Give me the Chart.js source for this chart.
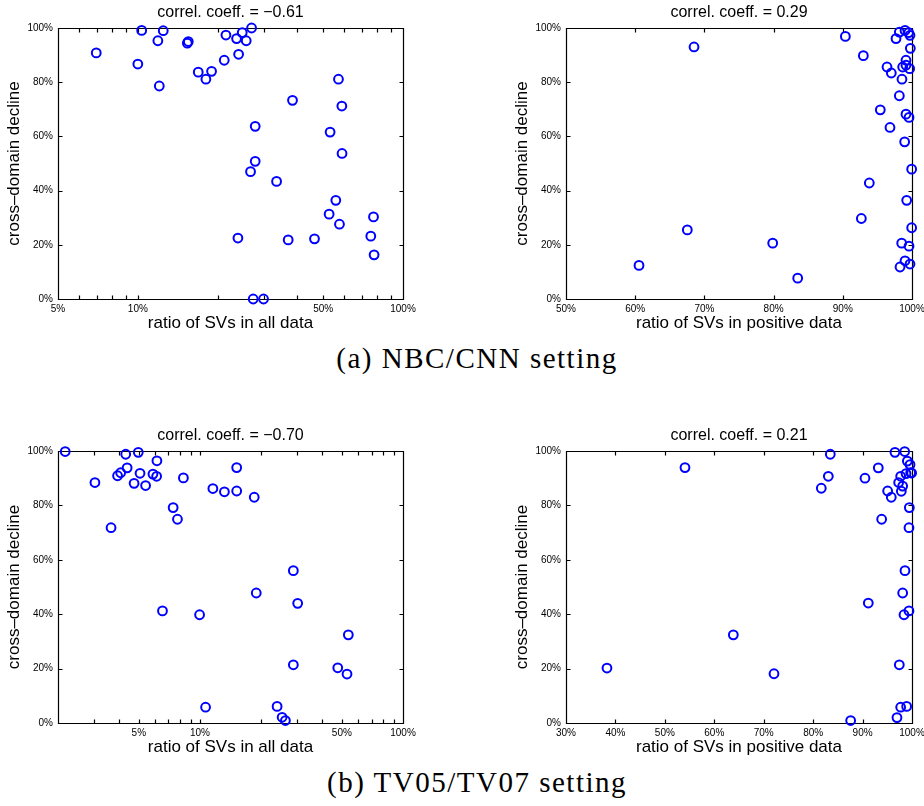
<!DOCTYPE html>
<html>
<head>
<meta charset="utf-8">
<script src="https://cdn.jsdelivr.net/npm/chart.js@4.4.1/dist/chart.umd.min.js"></script>
<style>
  body { margin: 0; width: 924px; height: 806px; overflow: hidden; background: #fff; position: relative; }
  canvas { position: absolute; }
  .cap { position: absolute; left: 177px; width: 600px; text-align: center; font-family: "Liberation Serif", serif;
         font-size: 29px; line-height: 29px; letter-spacing: 1.5px; color: #000; white-space: nowrap; }
</style>
</head>
<body>
<canvas id="c1" width="420" height="339" style="left:0;top:0"></canvas>
<canvas id="c2" width="424" height="339" style="left:508px;top:0"></canvas>
<canvas id="c3" width="420" height="340" style="left:0;top:423px"></canvas>
<canvas id="c4" width="424" height="340" style="left:508px;top:423px"></canvas>
<div class="cap" style="top:344px">(a) NBC/CNN setting</div>
<div class="cap" style="top:768px">(b) TV05/TV07 setting</div>
<script>
// (a) NBC/CNN - ratio of SVs in all data (%) vs cross-domain decline (%)
const nbcAllX = [6.97, 10.34, 12.47, 11.9, 10.0, 12.05, 15.37, 15.5, 16.9, 18.06, 18.97, 21.18, 21.49, 23.57, 23.99, 24.76, 25.63, 26.85, 27.71, 27.71,
                 26.61, 23.85, 27.23, 29.79, 33.36, 38.31, 36.9, 46.37, 52.65, 53.1, 55.8, 57.1, 57.6, 58.8, 58.9, 75.6, 77.4, 77.8];
const nbcAllY = [90.8, 99.1, 99.0, 95.3, 86.7, 78.6, 94.4, 95.0, 83.7, 81.1, 84.0, 88.1, 97.4, 96.1, 90.3, 98.3, 95.3, 100, 63.7, 50.8,
                 47.0, 22.5, 0, 0, 43.4, 73.3, 21.8, 22.2, 31.3, 61.6, 36.4, 81.1, 27.6, 71.2, 53.7, 23.2, 30.3, 16.3];

// (a) NBC/CNN - ratio of SVs in positive data
const nbcPosX = [60.55, 67.53, 68.5, 79.87, 83.48, 90.37, 92.97, 92.68, 93.83, 95.42, 96.39, 96.82, 97.01, 97.69, 98.17, 98.17, 98.55, 98.65,
                 98.51, 98.27, 98.94, 98.99, 99.13, 99.13, 98.99, 99.13, 99.23, 99.52, 99.57, 99.57, 99.71, 99.66, 99.76, 99.71, 99.95, 99.95];
const nbcPosY = [12.4, 25.5, 93.0, 20.6, 7.7, 96.9, 89.8, 29.7, 42.8, 69.8, 85.6, 63.3, 83.4, 96.1, 75.0, 98.5, 81.1, 85.6,
                 20.6, 11.8, 58.0, 99.1, 88.1, 86.3, 14.1, 68.2, 36.4, 98.3, 67.0, 19.5, 97.3, 85.0, 92.5, 12.9, 47.9, 26.3];

// (b) TV05/TV07 - ratio of SVs in all data
const tvAllX = [2.17, 3.04, 3.65, 3.93, 4.07, 4.31, 4.38, 4.74, 4.97, 5.07, 5.40, 5.87, 6.12, 6.14, 6.54, 7.38, 7.75, 8.29, 9.96, 10.66,
                11.58, 13.2, 15.17, 15.17, 18.51, 18.94, 23.99, 25.39, 26.36, 28.84, 28.84, 30.29, 47.72, 53.0, 53.8];
const tvAllY = [99.8, 88.4, 71.8, 90.9, 92.0, 98.8, 93.8, 88.1, 99.5, 91.8, 87.3, 91.5, 90.7, 96.4, 41.2, 79.2, 74.9, 90.1, 39.8, 5.8,
                86.2, 85.0, 93.9, 85.3, 83.0, 47.8, 6.1, 2.1, 0.9, 56.0, 21.4, 44.0, 20.3, 18.0, 32.4];

// (b) TV05/TV07 - ratio of SVs in positive data
const tvPosX = [38.29, 54.07, 63.85, 72.08, 81.65, 83.07, 83.47, 87.59, 90.49, 91.16, 93.18, 93.86, 95.07, 95.81, 96.55, 96.96, 97.43, 97.30,
                97.71, 97.84, 97.71, 98.11, 98.11, 98.38, 98.58, 98.52, 98.79, 98.92, 99.06, 99.39, 99.46, 99.39, 99.6, 99.73, 99.93];
const tvPosY = [20.2, 93.9, 32.4, 18.1, 86.3, 90.7, 98.8, 0.9, 90.0, 44.1, 93.8, 74.9, 85.3, 83.0, 99.5, 2.0, 21.4, 88.4,
                90.7, 85.2, 5.8, 87.1, 47.8, 39.8, 56.0, 99.8, 91.7, 6.1, 96.3, 41.2, 79.2, 71.8, 95.0, 92.0, 91.9];

const titles = ['correl. coeff. = \u22120.61', 'correl. coeff. = 0.29', 'correl. coeff. = \u22120.70', 'correl. coeff. = 0.21'];
const xTitleAll = 'ratio of SVs in all data';
const xTitlePos = 'ratio of SVs in positive data';
const yTitle = 'cross\u2013domain decline';
const logTicks = [5, 10, 50, 100];
const posTicksA = [50, 60, 70, 80, 90, 100];
const posTicksB = [30, 40, 50, 60, 70, 80, 90, 100];
const yTicks = [0, 20, 40, 60, 80, 100];

Chart.defaults.font.family = '"Liberation Sans", Arial, sans-serif';
Chart.defaults.color = '#000';

// MATLAB style box with inward ticks on all four sides
const matlabAxes = {
    id: 'matlabAxes',
    beforeDatasetsDraw(chart) {
        const { ctx, chartArea: a, scales: { x, y } } = chart;
        const len = 4;
        ctx.save();
        ctx.strokeStyle = '#000';
        ctx.lineWidth = 1.2;
        ctx.beginPath();
        const L = Math.round(a.left) + 0.5, R = Math.round(a.right) + 0.5;
        const T = Math.round(a.top) + 0.5, B = Math.round(a.bottom) + 0.5;
        ctx.rect(L, T, R - L, B - T);

        let xs = x.ticks.map(t => t.value);
        if (x.type === 'logarithmic') {
            xs = [];
            for (let e = Math.floor(Math.log10(x.min)); e <= Math.ceil(Math.log10(x.max)); e++) {
                for (let m = 1; m <= 9; m++) {
                    const v = m * Math.pow(10, e);
                    if (v >= x.min - 1e-9 && v <= x.max + 1e-9) xs.push(v);
                }
            }
        }
        xs.forEach(v => {
            const px = Math.round(x.getPixelForValue(v)) + 0.5;
            ctx.moveTo(px, B); ctx.lineTo(px, B - len);
            ctx.moveTo(px, T); ctx.lineTo(px, T + len);
        });
        y.ticks.forEach(t => {
            const py = Math.round(y.getPixelForValue(t.value)) + 0.5;
            ctx.moveTo(L, py); ctx.lineTo(L + len, py);
            ctx.moveTo(R, py); ctx.lineTo(R - len, py);
        });
        ctx.stroke();
        ctx.restore();
    }
};

function makeChart(id, xs, ys, title, xType, xMin, xMax, xTicks, xTitle, padRight) {
    const ctx = document.getElementById(id).getContext('2d');
    return new Chart(ctx, {
        type: 'scatter',
        data: {
            datasets: [{
                data: xs.map((v, i) => ({ x: v, y: ys[i] })),
                pointStyle: 'circle',
                pointRadius: 4.4,
                pointBorderWidth: 2,
                borderColor: '#0000ff',
                backgroundColor: 'rgba(0,0,0,0)',
                clip: false
            }]
        },
        options: {
            responsive: false,
            animation: false,
            events: [],
            layout: { padding: { left: 0, right: padRight, top: 0, bottom: 0 } },
            plugins: {
                legend: { display: false },
                tooltip: { enabled: false },
                title: {
                    display: true,
                    text: title,
                    fullSize: false,
                    color: '#000',
                    font: { size: 16, weight: 'normal' },
                    padding: { top: 2.9, bottom: 5.9 }
                }
            },
            scales: {
                x: {
                    type: xType,
                    min: xMin,
                    max: xMax,
                    afterBuildTicks: s => { s.ticks = xTicks.map(v => ({ value: v })); },
                    afterFit: s => { s.height = 40; s.paddingLeft = 0; s.paddingRight = 0; },
                    grid: { display: false, drawTicks: false },
                    border: { display: false },
                    ticks: { autoSkip: false, maxRotation: 0, padding: 4, font: { size: 10 }, color: '#000',
                             callback: v => v + '%' },
                    title: { display: true, text: xTitle, color: '#000', font: { size: 17 }, padding: { top: 0, bottom: 5.8 } }
                },
                y: {
                    type: 'linear',
                    min: 0,
                    max: 100,
                    afterBuildTicks: s => { s.ticks = yTicks.map(v => ({ value: v })); },
                    afterFit: s => { s.width = 58; s.paddingTop = 0; s.paddingBottom = 0; },
                    grid: { display: false, drawTicks: false },
                    border: { display: false },
                    ticks: { padding: 5, font: { size: 10 }, color: '#000', callback: v => v + '%' },
                    title: { display: true, text: yTitle, color: '#000', font: { size: 17 }, padding: { top: 3.9, bottom: 0 } }
                }
            }
        },
        plugins: [matlabAxes]
    });
}

makeChart('c1', nbcAllX, nbcAllY, titles[0], 'logarithmic', 5, 100, logTicks, xTitleAll, 17);
makeChart('c2', nbcPosX, nbcPosY, titles[1], 'linear', 50, 100, posTicksA, xTitlePos, 20);
makeChart('c3', tvAllX, tvAllY, titles[2], 'logarithmic', 2, 100, logTicks, xTitleAll, 17);
makeChart('c4', tvPosX, tvPosY, titles[3], 'linear', 30, 100, posTicksB, xTitlePos, 20);
</script>
</body>
</html>
